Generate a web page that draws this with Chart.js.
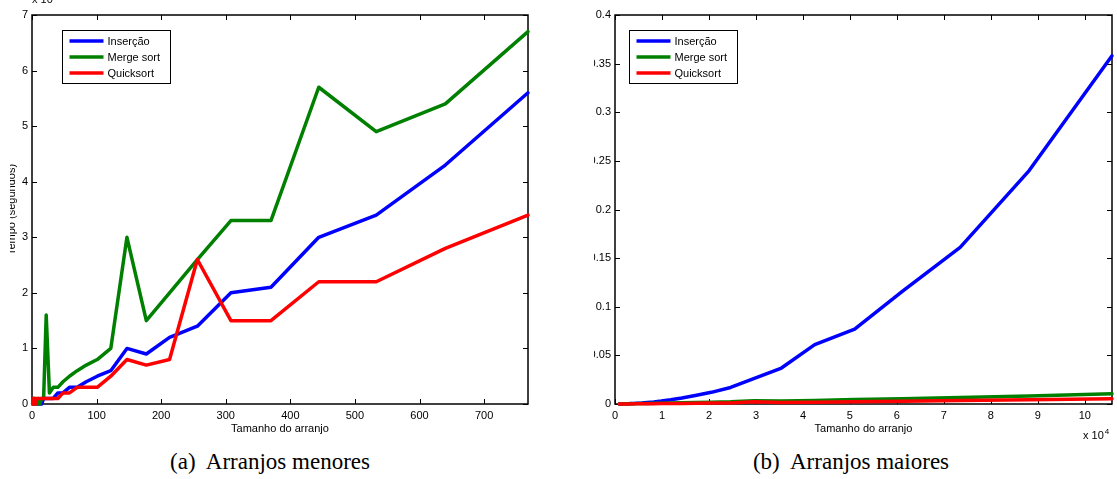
<!DOCTYPE html>
<html>
<head>
<meta charset="utf-8">
<script src="https://cdn.jsdelivr.net/npm/chart.js@4.4.0/dist/chart.umd.min.js"></script>
<style>
  body { margin: 0; background: #fff; width: 1117px; height: 479px; position: relative; overflow: hidden; }
  .clip { position: absolute; top: 0; height: 445px; overflow: hidden; }
  #wrapA { left: 10px; width: 550px; }
  #wrapA canvas { position: absolute; left: -10px; top: 0; }
  #wrapB { left: 594px; width: 523px; }
  #wrapB canvas { position: absolute; left: -34px; top: 0; }
  .cap { position: absolute; top: 449px; width: 300px; text-align: center; white-space: pre;
         font-family: "Liberation Serif", "DejaVu Serif", serif; font-size: 23px; color: #000; }
</style>
</head>
<body>
<div class="clip" id="wrapA"><canvas id="chartA" width="560" height="445"></canvas></div>
<div class="clip" id="wrapB"><canvas id="chartB" width="557" height="445"></canvas></div>
<div class="cap" style="left:120px">(a)  Arranjos menores</div>
<div class="cap" style="left:701px">(b)  Arranjos maiores</div>
<script>
// tamanhos dos arranjos (n = ceil(1.2 n))
var sizesSmall = [1, 2, 3, 4, 5, 6, 8, 10, 12, 15, 18, 22, 27, 33, 40, 48, 58, 70, 84, 101, 122, 147, 177, 213, 256, 308, 370, 444, 533, 640, 768];
// tempos em 1e-5 s
var insercaoSmall = [0, 0, 0, 0, 0, 0, 0, 0, 0, 0, 0.1, 0.1, 0.1, 0.1, 0.2, 0.2, 0.3, 0.3, 0.4, 0.5, 0.6, 1.0, 0.9, 1.2, 1.4, 2.0, 2.1, 3.0, 3.4, 4.3, 5.6];
var mergeSmall = [0, 0.1, 0, 0.1, 0.1, 0.1, 0, 0.1, 0, 0.1, 0.1, 1.6, 0.2, 0.3, 0.3, 0.4, 0.5, 0.6, 0.7, 0.8, 1.0, 3.0, 1.5, 2.0, 2.6, 3.3, 3.3, 5.7, 4.9, 5.4, 6.7];
var quickSmall = [0, 0.1, 0, 0.1, 0, 0.1, 0.1, 0.1, 0.1, 0.1, 0.1, 0.1, 0.1, 0.1, 0.1, 0.2, 0.2, 0.3, 0.3, 0.3, 0.5, 0.8, 0.7, 0.8, 2.6, 1.5, 1.5, 2.2, 2.2, 2.8, 3.4];

var sizesLarge = [922, 1107, 1329, 1595, 1914, 2297, 2757, 3309, 3971, 4766, 5720, 6864, 8237, 9885, 11862, 14235, 17082, 20499, 24599, 29519, 35423, 42508, 51010, 61212, 73455, 88146, 105776];
// tempos em s
var insercaoLarge = [0.0001, 0.0001, 0.0001, 0.0001, 0.0002, 0.0002, 0.0003, 0.0004, 0.0005, 0.0007, 0.0010, 0.0015, 0.0021, 0.0030, 0.0043, 0.0062, 0.0088, 0.0120, 0.0170, 0.0260, 0.0370, 0.0610, 0.0770, 0.1160, 0.1610, 0.2400, 0.3580];
var mergeLarge = [0.0001, 0.0001, 0.0001, 0.0001, 0.0002, 0.0002, 0.0002, 0.0003, 0.0003, 0.0004, 0.0005, 0.0006, 0.0007, 0.0009, 0.0011, 0.0013, 0.0016, 0.0019, 0.0023, 0.0034, 0.0031, 0.0037, 0.0045, 0.0055, 0.0066, 0.0081, 0.0105];
var quickLarge = [0, 0, 0.0001, 0.0001, 0.0001, 0.0001, 0.0001, 0.0001, 0.0002, 0.0002, 0.0002, 0.0003, 0.0003, 0.0004, 0.0005, 0.0006, 0.0007, 0.0009, 0.0011, 0.0024, 0.0016, 0.0019, 0.0024, 0.0029, 0.0035, 0.0043, 0.0055];

var seriesNames = ['Inserção', 'Merge sort', 'Quicksort'];
var seriesColors = ['#0000ff', '#008000', '#ff0000'];

Chart.defaults.font.family = '"Liberation Sans", Arial, Helvetica, sans-serif';
Chart.defaults.font.size = 11;
Chart.defaults.color = '#000';

// caixa do eixo + marcas para dentro (estilo matlab)
var frame = {
  id: 'frame',
  beforeDatasetsDraw: function (chart) {
    var ctx = chart.ctx, a = chart.chartArea, x = chart.scales.x, y = chart.scales.y;
    ctx.save();
    ctx.strokeStyle = '#000';
    ctx.lineWidth = 1;
    ctx.beginPath();
    x.ticks.forEach(function (t) {
      var px = Math.round(x.getPixelForValue(t.value)) + 0.5;
      ctx.moveTo(px, a.bottom); ctx.lineTo(px, a.bottom - 5);
      ctx.moveTo(px, a.top); ctx.lineTo(px, a.top + 5);
    });
    y.ticks.forEach(function (t) {
      var py = Math.round(y.getPixelForValue(t.value)) + 0.5;
      ctx.moveTo(a.left, py); ctx.lineTo(a.left + 5, py);
      ctx.moveTo(a.right, py); ctx.lineTo(a.right - 5, py);
    });
    ctx.stroke();
    ctx.lineWidth = 1.5;
    ctx.strokeRect(a.left, a.top, a.right - a.left, a.bottom - a.top);
    ctx.restore();
  }
};

var boxLegend = {
  id: 'boxLegend',
  afterDraw: function (chart, args, opts) {
    var ctx = chart.ctx, a = chart.chartArea;
    var bx = Math.round(a.left + opts.dx) + 0.5, by = Math.round(a.top + opts.dy) + 0.5;
    ctx.save();
    ctx.fillStyle = '#fff';
    ctx.fillRect(bx, by, 108, 53);
    ctx.strokeStyle = '#000';
    ctx.lineWidth = 1;
    ctx.strokeRect(bx, by, 108, 53);
    ctx.font = '11px "Liberation Sans", Arial, sans-serif';
    ctx.textBaseline = 'middle';
    chart.data.datasets.forEach(function (ds, i) {
      var yy = by + 10.5 + i * 16;
      ctx.strokeStyle = ds.borderColor;
      ctx.lineWidth = 3.5;
      ctx.beginPath();
      ctx.moveTo(bx + 7, yy); ctx.lineTo(bx + 41, yy);
      ctx.stroke();
      ctx.fillStyle = '#000';
      ctx.fillText(ds.label, bx + 45, yy + 0.5);
    });
    ctx.restore();
  }
};

// fator de escala "x 10^k"
var expo = {
  id: 'expo',
  afterDraw: function (chart, args, opts) {
    var ctx = chart.ctx;
    ctx.save();
    ctx.fillStyle = '#000';
    ctx.textBaseline = 'alphabetic';
    ctx.font = '11px "Liberation Sans", Arial, sans-serif';
    ctx.fillText('x 10', opts.x, opts.y);
    var w = ctx.measureText('x 10').width;
    ctx.font = '8px "Liberation Sans", Arial, sans-serif';
    ctx.fillText(opts.pow, opts.x + w + 1, opts.y - 5);
    ctx.restore();
  }
};

function makeChart(id, sizes, lists, cfg) {
  var datasets = lists.map(function (vals, i) {
    return {
      label: seriesNames[i],
      data: sizes.map(function (n, j) { return { x: n, y: vals[j] }; }),
      borderColor: seriesColors[i],
      backgroundColor: seriesColors[i],
      borderWidth: 3.5,
      borderJoinStyle: 'round',
      borderCapStyle: 'round',
      pointRadius: 0,
      tension: 0,
      clip: false,
      order: 3 - i
    };
  });
  return new Chart(document.getElementById(id), {
    type: 'line',
    data: { datasets: datasets },
    options: {
      responsive: false,
      animation: false,
      devicePixelRatio: 1,
      layout: { padding: { left: 0, right: cfg.padRight, top: 15, bottom: 0 } },
      plugins: {
        legend: { display: false },
        tooltip: { enabled: false },
        boxLegend: { dx: cfg.legendDx, dy: 15 },
        expo: cfg.expo
      },
      scales: {
        x: {
          type: 'linear',
          min: 0,
          max: cfg.xMax,
          grid: { display: false, drawTicks: false },
          border: { display: false },
          ticks: { padding: 5, maxRotation: 0, autoSkip: false, callback: cfg.xFmt },
          afterBuildTicks: function (s) {
            var t = [];
            for (var v = 0; v <= cfg.xMax; v += cfg.xStep) t.push({ value: v });
            s.ticks = t;
          },
          title: { display: true, text: 'Tamanho do arranjo', padding: { top: 0, bottom: 9.4 } },
          afterFit: function (s) { s.height = 41; }
        },
        y: {
          min: 0,
          max: cfg.yMax,
          grid: { display: false, drawTicks: false },
          border: { display: false },
          ticks: { stepSize: cfg.yStep, padding: 4, callback: cfg.yFmt },
          title: { display: true, text: 'Tempo (segundos)', padding: { top: 5.4, bottom: 0 } },
          afterFit: function (s) { s.width = cfg.yWidth; }
        }
      }
    },
    plugins: [frame, boxLegend, expo]
  });
}

makeChart('chartA', sizesSmall, [insercaoSmall, mergeSmall, quickSmall], {
  xMax: 768, xStep: 100, yMax: 7, yStep: 1, yWidth: 32, padRight: 32, legendDx: 30,
  xFmt: function (v) { return String(v); },
  yFmt: function (v) { return String(v); },
  expo: { x: 32, y: 3, pow: '-5' }
});

makeChart('chartB', sizesLarge, [insercaoLarge, mergeLarge, quickLarge], {
  xMax: 105776, xStep: 10000, yMax: 0.4, yStep: 0.05, yWidth: 55, padRight: 5, legendDx: 14,
  xFmt: function (v) { return String(Math.round(v / 10000)); },
  yFmt: function (v) { return String(Math.round(v * 100) / 100); },
  expo: { x: 523, y: 439, pow: '4' }
});
</script>
</body>
</html>
